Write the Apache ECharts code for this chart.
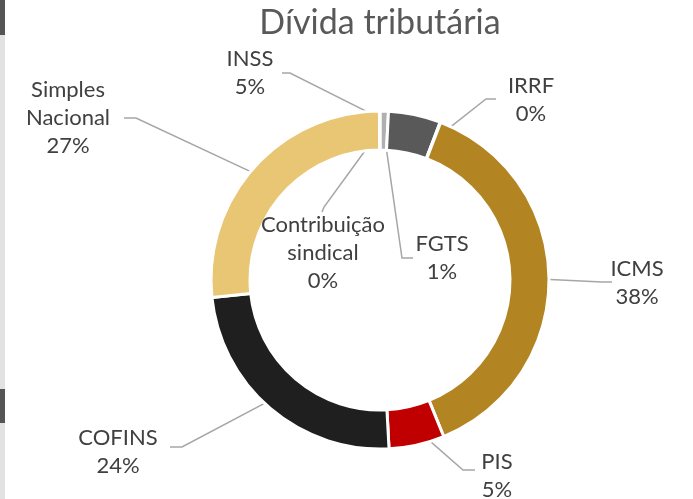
<!DOCTYPE html>
<html><head><meta charset="utf-8">
<script src="https://cdn.jsdelivr.net/npm/echarts@6/dist/echarts.min.js"></script>
<style>html,body{margin:0;padding:0;background:#fff}#c{width:693px;height:499px}</style>
</head><body><div id="c"></div>
<script>
// ---- data ----
const categories = ['FGTS','INSS','IRRF','ICMS','PIS','COFINS','Simples Nacional','Contribuição sindical'];
const values = [0.8, 5.0, 0.05, 38.0, 5.3, 24.2, 26.6, 0.05];
const labelNames = ['FGTS','INSS','IRRF','ICMS','PIS','COFINS','Simples\nNacional','Contribuição\nsindical'];
const titleText = 'Dívida tributária';

// ---- styling / layout ----
const colors = ['#b0b0b0','#595959','#8c8c8c','#b38522','#c00000','#1f1f1f','#e8c674','#d0d0d0'];
const CX = 380, CY = 280, R_IN = 130, R_OUT = 169;
// label centre, line end at label, elbow
const labelPos = [
  {c:[442,258], e:[413,258], k:[402,258]},
  {c:[250,73],  e:[282,73],  k:[290,73]},
  {c:[531,100], e:[496,99],  k:[486,99]},
  {c:[637,283], e:[612,282], k:[602,282]},
  {c:[497,476], e:[475,470], k:[463,470]},
  {c:[118,452], e:[170,447], k:[182,447]},
  {c:[68,118],  e:[124,118], k:[136,118]},
  {c:[323,253], e:[322,212], k:[324,207]}
];

const total = values.reduce((a,b)=>a+b,0);
function midAngle(i){
  let s = 0; for (let j=0;j<i;j++) s += values[j];
  return (s + values[i]/2) / total * 2 * Math.PI;
}

const chart = echarts.init(document.getElementById('c'));
chart.setOption({
  backgroundColor:'#fff',
  animation:false,
  title:{ text: titleText, left: 375, top: 1, textAlign:'center',
    textStyle:{ fontFamily:'Lato', fontSize:34, fontWeight:'normal', color:'#595959' } },
  graphic:[
    {type:'rect', shape:{x:0,y:0,width:5,height:499}, style:{fill:'#e2e2e2'}},
    {type:'rect', shape:{x:0,y:0,width:5,height:35}, style:{fill:'#555'}},
    {type:'rect', shape:{x:0,y:389,width:5,height:34}, style:{fill:'#555'}}
  ],
  series:[{
    type:'pie',
    center:[CX, CY],
    radius:[R_IN, R_OUT],
    startAngle:90,
    clockwise:true,
    minAngle:0,
    avoidLabelOverlap:false,
    itemStyle:{ borderColor:'#fff', borderWidth:3 },
    data: categories.map((n,i)=>({name:n, value:values[i], itemStyle:{color:colors[i]}})),
    label:{
      show:true, position:'outside',
      formatter: p => labelNames[p.dataIndex] + '\n' + Math.round(p.value/total*100) + '%',
      fontFamily:'Lato', fontSize:22, lineHeight:28, color:'#404040', align:'center'
    },
    labelLine:{ show:true, lineStyle:{ color:'#a6a6a6', width:1.5 } },
    labelLayout: function(params){
      const i = params.dataIndex;
      const lp = labelPos[i];
      const a = midAngle(i), r = (R_IN + R_OUT)/2;
      const p0 = [CX + r*Math.sin(a), CY - r*Math.cos(a)];
      return {
        x: lp.c[0], y: lp.c[1], align:'center', verticalAlign:'middle',
        labelLinePoints:[p0, lp.k, lp.e]
      };
    },
    emphasis:{disabled:true}
  }]
});
</script></body></html>
